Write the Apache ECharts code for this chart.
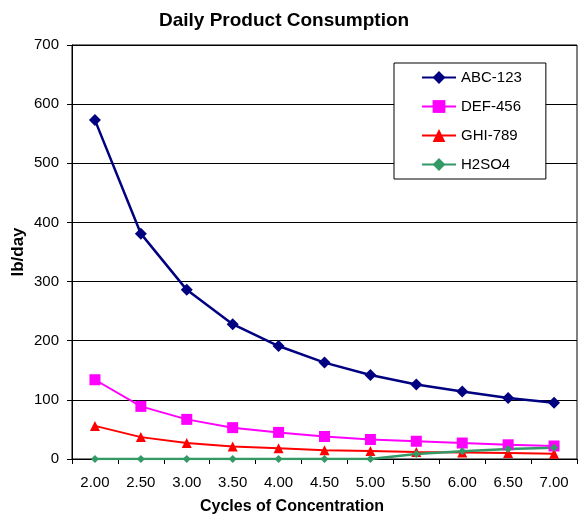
<!DOCTYPE html>
<html>
<head>
<meta charset="utf-8">
<script src="https://cdn.jsdelivr.net/npm/echarts@6/dist/echarts.min.js"></script>
<style>html,body{margin:0;padding:0;background:#fff;}#c{width:581px;height:518px;}</style>
</head>
<body>
<div id="c"></div>
<script>
var categories = ['2.00','2.50','3.00','3.50','4.00','4.50','5.00','5.50','6.00','6.50','7.00'];
var abc123 = [573, 381, 286, 228, 191, 163, 142, 126, 114, 103, 95];
var def456 = [134, 89, 67, 53, 45, 38, 33, 30, 27, 24, 22];
var ghi789 = [56, 37, 27, 21, 18, 15, 13.5, 12, 11, 10, 9];
var h2so4 = [0, 0, 0, 0, 0, 0, 0, 8.5, 13, 17, 19];
var yTicks = [0, 100, 200, 300, 400, 500, 600, 700];

var FONT = 'Arial, "Liberation Sans", sans-serif';
var chart = echarts.init(document.getElementById('c'), null, {renderer: 'canvas'});
chart.setOption({
  backgroundColor: '#ffffff',
  animation: false,
  title: [
    {text: 'Daily Product Consumption', left: 154, top: 6,
     textStyle: {fontFamily: FONT, fontSize: 19, fontWeight: 'bold', color: '#000'}},
    {text: 'Cycles of Concentration', left: 195, top: 494,
     textStyle: {fontFamily: FONT, fontSize: 16, fontWeight: 'bold', color: '#000'}}
  ],
  grid: {left: 72, right: 4, top: 45, bottom: 59, outerBoundsMode: 'none', containLabel: false,
         show: true, borderColor: '#000', borderWidth: 1, backgroundColor: 'transparent'},
  legend: {
    orient: 'vertical', left: 394, top: 63,
    padding: [7, 24, 7, 27],
    itemWidth: 34, itemHeight: 16, itemGap: 14,
    backgroundColor: '#fff', borderColor: '#000', borderWidth: 1, borderRadius: 0,
    textStyle: {fontFamily: FONT, fontSize: 15, color: '#000'},
    data: ['ABC-123', 'DEF-456', 'GHI-789', 'H2SO4']
  },
  xAxis: {
    type: 'category', data: categories, boundaryGap: true,
    axisLine: {lineStyle: {color: '#000', width: 1}},
    axisTick: {show: true, length: 5, inside: false, lineStyle: {color: '#000'}},
    axisLabel: {fontFamily: FONT, fontSize: 15, color: '#000', margin: 16, interval: 0},
    splitLine: {show: false}
  },
  yAxis: {
    type: 'value', min: 0, max: 700, interval: 100,
    name: 'lb/day', nameLocation: 'middle', nameGap: 45, nameRotate: 90, nameMoveOverlap: false,
    nameTextStyle: {fontFamily: FONT, fontSize: 17, fontWeight: 'bold', color: '#000'},
    axisLine: {show: true, lineStyle: {color: '#000', width: 1}},
    axisTick: {show: true, length: 5, lineStyle: {color: '#000'}},
    axisLabel: {fontFamily: FONT, fontSize: 15, color: '#000', margin: 13,
      formatter: function (v) { return yTicks.indexOf(v) >= 0 ? String(v) : ''; }},
    splitLine: {show: true, lineStyle: {color: '#000', width: 1}}
  },
  series: [
    {name: 'ABC-123', type: 'line', data: abc123, symbol: 'diamond', symbolSize: 12,
     color: '#000080', lineStyle: {width: 2.5, color: '#000080'}, itemStyle: {color: '#000080'}},
    {name: 'DEF-456', type: 'line', data: def456, symbol: 'rect', symbolSize: 11,
     color: '#FF00FF', lineStyle: {width: 2, color: '#FF00FF'}, itemStyle: {color: '#FF00FF'}},
    {name: 'GHI-789', type: 'line', data: ghi789, symbol: 'triangle', symbolSize: 10,
     color: '#FF0000', lineStyle: {width: 2, color: '#FF0000'}, itemStyle: {color: '#FF0000'}},
    {name: 'H2SO4', type: 'line', data: h2so4, symbol: 'diamond', symbolSize: 8,
     color: '#339966', lineStyle: {width: 2.5, color: '#339966'}, itemStyle: {color: '#339966'}}
  ]
});
</script>
</body>
</html>
